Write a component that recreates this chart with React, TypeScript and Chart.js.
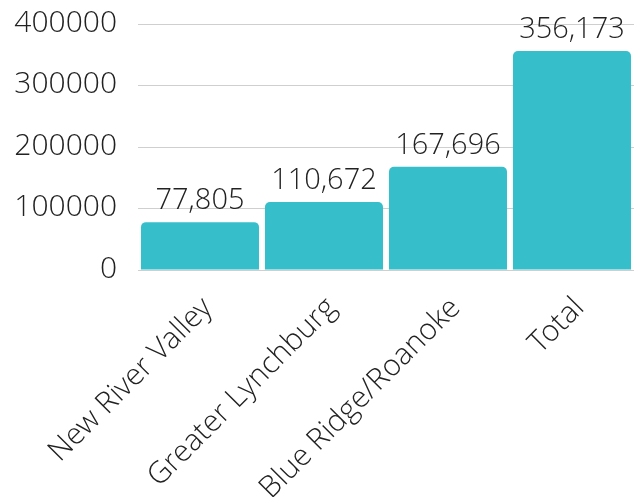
import React, { useEffect, useRef } from 'react';
import { Chart, registerables } from 'chart.js';
Chart.register(...registerables);

const categories = ['New River Valley', 'Greater Lynchburg', 'Blue Ridge/Roanoke', 'Total'];
const values = [77805, 110672, 167696, 356173];
const yTicks = [0, 100000, 200000, 300000, 400000];

const FAMILY = "'Open Sans Light', 'Open Sans', sans-serif";
const BAR_COLOR = '#37BECB';
const TEXT_COLOR = '#222222';

export default function App() {
  const ref = useRef<HTMLCanvasElement>(null);
  useEffect(() => {
    document.body.style.margin = '0';
    const valueLabels = {
      id: 'valueLabels',
      afterDatasetsDraw(chart: any) {
        const ctx = chart.ctx;
        const meta = chart.getDatasetMeta(0);
        ctx.save();
        ctx.font = `300 29px ${FAMILY}`;
        ctx.fillStyle = TEXT_COLOR;
        ctx.textAlign = 'center';
        ctx.textBaseline = 'alphabetic';
        meta.data.forEach((el: any, i: number) => {
          ctx.fillText(values[i].toLocaleString('en-US'), el.x, el.y - 13);
        });
        ctx.restore();
      },
    };
    const chart = new Chart(ref.current as HTMLCanvasElement, {
      type: 'bar',
      data: {
        labels: categories,
        datasets: [
          {
            data: values,
            backgroundColor: BAR_COLOR,
            borderRadius: 5,
            barPercentage: 0.952,
            categoryPercentage: 1,
          },
        ],
      },
      options: {
        animation: false,
        responsive: false,
        layout: { padding: { left: 0, right: 3, top: 24, bottom: 0 } },
        plugins: { legend: { display: false }, tooltip: { enabled: false } },
        scales: {
          x: {
            grid: { display: false },
            border: { display: false },
            afterFit: (s: any) => {
              s.height = 227;
              s.paddingLeft = 0;
              s.paddingRight = 0;
            },
            ticks: {
              autoSkip: false,
              minRotation: 45,
              maxRotation: 45,
              padding: 13,
              labelOffset: 8,
              color: TEXT_COLOR,
              font: { family: FAMILY, size: 30, weight: '300' as any },
            },
          },
          y: {
            min: 0,
            max: 400000,
            afterBuildTicks: (s: any) => {
              s.ticks = yTicks.map((v) => ({ value: v }));
            },
            afterFit: (s: any) => {
              s.width = 138;
              s.paddingTop = 0;
              s.paddingBottom = 0;
            },
            ticks: {
              padding: 21,
              color: TEXT_COLOR,
              font: { family: FAMILY, size: 30, weight: '300' as any },
              callback: (v: any) => String(v),
            },
            grid: { color: '#cfcfcf', drawTicks: false },
            border: { display: false },
          },
        } as any,
      },
      plugins: [valueLabels],
    });
    return () => chart.destroy();
  }, []);
  return (
    <div style={{ width: 637, height: 497 }}>
      <canvas ref={ref} width={637} height={497} style={{ display: 'block' }} />
    </div>
  );
}
